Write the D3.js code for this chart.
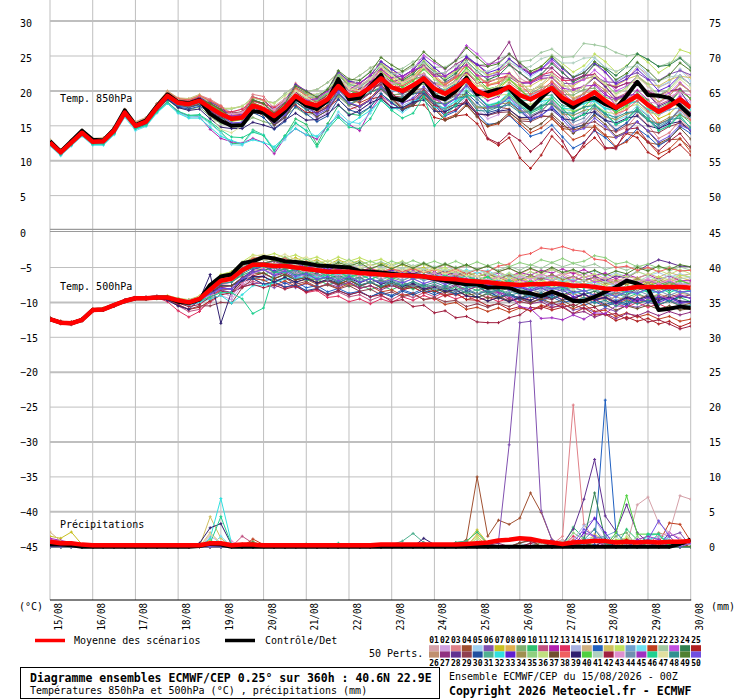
<!DOCTYPE html>
<html>
<head>
<meta charset="UTF-8" />
<title>Diagramme ensembles ECMWF/CEP</title>
<script src="https://cdn.jsdelivr.net/npm/d3@7"></script>
<style>
  body { margin: 0; background: #fff; }
  svg { display: block; }
  svg text { font-family: "DejaVu Sans Mono", "Liberation Mono", monospace; }
</style>
</head>
<body>
<div id="chart"></div>
<script>
// ---- data (6-hourly steps, 15/08 00Z -> 30/08 00Z, 61 steps) ----
const dayLabels = ["15/08","16/08","17/08","18/08","19/08","20/08","21/08","22/08","23/08","24/08","25/08","26/08","27/08","28/08","29/08","30/08"];
const memberColors = ["#d4a0a8","#d0a0e0","#e08088","#a05030","#a0d0f0","#8050b0","#c8c020","#e0b050","#80b070","#30c070",
  "#c05080","#b020b0","#e03060","#a8b0e0","#d0b080","#2060c0","#d0c060","#c0e060","#70a0d0","#70e0f0",
  "#c04020","#a0c8a0","#c050e0","#308050","#b02020","#c09070","#903080","#603090","#904050","#2050a0",
  "#50b090","#30e0e0","#6020d0","#a09050","#90d080","#c0e080","#705030","#f06060","#302070","#50d040",
  "#b0d0c0","#a02040","#e090d0","#7090b0","#a030c0","#20d090","#e0e0a0","#309090","#508030","#7050e0"];

const t850Mean = [12.6,11.2,12.6,14.0,12.7,12.8,14.3,16.9,15.0,15.6,17.6,19.3,18.3,18.1,18.6,17.6,16.7,16.0,16.2,17.9,17.4,16.4,17.6,19.3,18.3,17.9,18.8,20.7,19.3,19.5,20.5,21.8,20.5,20.0,20.8,21.8,20.3,19.6,20.5,21.6,20.0,19.3,19.8,20.6,19.4,18.8,19.6,20.4,19.0,18.2,18.9,19.8,18.6,17.6,18.4,19.3,18.0,17.0,17.8,18.8,17.6];
const t850Ctrl = [12.8,11.3,12.8,14.3,13.0,12.9,14.5,17.2,15.1,15.8,17.8,19.5,18.4,18.2,18.7,16.7,15.7,15.0,15.1,17.1,16.9,15.7,17.1,19.0,17.9,17.4,18.6,21.7,18.8,19.0,20.7,22.3,19.0,18.6,20.0,21.7,19.3,18.8,20.0,21.9,19.5,19.8,20.2,20.4,18.6,17.4,19.0,20.4,18.6,17.6,18.7,19.0,18.1,17.5,19.3,21.3,19.4,19.3,19.0,17.9,16.4];
const t850Members = [
[12.8,11.4,12.8,14.3,12.9,13.0,14.6,17.2,15.3,15.9,17.9,19.7,18.7,18.6,19.2,18.0,17.0,16.9,17.4,18.6,18.0,17.8,18.9,20.1,19.6,19.5,19.8,21.6,20.9,20.6,21.5,23.1,22.5,21.3,22.0,23.9,22.9,21.2,22.3,24.3,22.0,21.2,22.8,23.9,21.8,21.0,22.2,24.1,22.8,21.0,21.9,23.8,22.6,20.8,21.6,23.5,22.3,20.5,21.2,23.1,21.9],
[12.4,11.0,12.4,13.8,12.5,12.5,14.0,16.6,14.7,15.3,17.3,18.9,17.9,17.7,18.1,17.4,16.4,15.1,15.0,17.3,16.8,15.0,16.1,18.4,17.3,16.0,16.9,19.4,17.9,17.2,18.2,20.1,18.8,17.3,18.0,19.8,18.1,16.5,17.3,19.2,17.4,16.0,16.6,18.4,17.2,16.0,16.9,18.7,17.3,16.0,17.0,18.9,17.9,16.3,17.4,19.3,18.1,16.5,17.5,19.5,18.4],
[12.7,11.3,12.8,14.2,12.9,13.1,14.6,17.3,15.4,16.0,18.1,19.9,18.9,18.8,19.4,18.8,17.9,16.8,17.0,19.5,19.2,17.5,18.6,21.1,19.9,18.8,19.6,22.2,20.7,20.1,21.1,23.1,21.5,20.1,20.7,22.4,20.5,18.9,19.6,21.4,19.3,17.7,18.1,19.5,17.9,16.4,17.0,18.6,16.8,15.0,15.5,17.3,15.9,14.1,14.8,16.6,15.1,13.2,14.0,15.8,14.5],
[12.6,11.1,12.7,14.1,12.8,12.9,14.4,17.0,15.2,15.8,17.8,19.5,18.5,18.4,18.9,17.6,16.8,16.7,16.9,18.0,17.5,17.2,18.3,19.1,18.0,18.3,19.1,20.1,18.6,19.5,20.4,20.8,19.4,19.6,20.2,20.3,18.7,18.7,19.4,19.5,17.6,17.5,17.7,17.4,16.0,15.9,16.5,16.2,14.6,14.4,14.8,14.8,13.5,13.3,14.0,14.0,12.6,12.3,13.0,13.1,11.8],
[12.3,10.9,12.3,13.7,12.4,12.6,14.1,16.7,14.8,15.4,17.4,19.2,18.2,18.1,18.7,18.1,17.3,16.1,16.4,18.8,18.2,16.7,18.0,20.5,19.5,18.6,19.6,22.3,20.9,20.5,21.6,23.9,22.6,21.5,22.5,24.5,23.0,21.7,22.7,24.9,23.3,22.0,22.6,24.5,23.2,22.0,23.0,24.8,23.3,22.0,23.0,24.7,23.3,21.5,22.2,24.0,22.4,20.6,21.3,23.1,21.4],
[12.9,11.5,12.9,14.2,12.9,13.0,14.4,17.0,15.1,15.6,17.6,19.3,18.2,18.0,18.4,17.1,16.1,16.0,16.1,17.1,16.6,16.3,17.5,18.8,17.9,18.2,19.3,20.6,19.4,20.3,21.3,22.0,20.9,21.1,22.0,22.4,21.1,21.2,22.1,22.6,21.2,21.3,21.8,22.0,21.0,21.2,22.1,22.3,21.1,21.0,21.7,22.1,21.3,21.2,22.1,22.6,21.6,21.5,22.4,22.9,22.3],
[12.5,11.1,12.6,14.0,12.8,12.9,14.5,17.2,15.3,15.9,18.0,19.7,18.8,18.6,19.2,18.5,17.7,16.5,16.8,19.1,18.7,17.2,18.5,20.9,20.0,19.1,20.1,22.7,21.4,21.1,22.2,24.0,22.6,21.4,22.1,23.6,22.0,20.6,21.4,23.0,21.3,19.9,20.3,21.6,20.3,19.0,19.7,21.0,19.5,18.0,18.6,20.0,18.7,17.0,17.7,19.1,17.7,16.0,16.7,18.2,16.9],
[12.8,11.4,12.7,14.1,12.7,12.7,14.2,16.7,14.8,15.4,17.4,19.1,18.1,17.9,18.4,17.8,16.9,15.6,15.9,18.2,17.7,16.2,17.5,19.9,19.0,18.1,19.1,21.7,20.4,20.1,21.2,23.2,22.0,21.0,21.9,23.6,22.2,21.0,22.0,23.8,22.3,20.9,21.3,22.6,21.3,20.0,20.7,22.0,20.5,19.0,19.6,21.2,20.1,18.6,19.5,21.1,19.9,18.4,19.3,21.0,19.9],
[12.2,10.8,12.2,13.6,12.3,12.4,13.8,16.4,14.5,15.1,17.1,18.7,17.6,17.3,17.7,16.3,15.3,15.1,15.2,16.2,15.6,15.2,16.4,17.6,16.6,16.9,17.8,19.2,17.9,18.8,19.8,20.6,19.4,19.6,20.5,21.0,19.6,19.6,20.6,21.2,19.7,19.7,20.3,20.6,19.5,19.6,20.5,20.8,19.5,19.4,20.2,20.4,19.1,18.6,19.3,19.5,18.1,17.6,18.3,18.6,16.8],
[12.6,11.2,12.5,13.9,12.6,12.6,14.1,16.6,14.7,15.2,17.0,18.4,17.0,16.4,16.5,15.4,14.1,12.5,12.4,14.4,13.7,11.6,13.5,16.0,15.2,12.3,15.3,17.9,16.7,16.5,17.7,19.6,18.4,17.3,18.2,19.9,18.4,17.2,18.2,20.0,18.8,17.5,17.9,19.3,18.0,16.8,17.5,18.9,17.4,16.0,16.6,18.0,16.8,15.2,15.9,17.4,16.0,14.3,15.1,16.7,15.4],
[12.9,11.5,12.9,14.3,13.0,13.2,14.7,17.3,15.5,16.1,18.1,19.8,18.8,18.6,19.1,18.4,17.5,16.2,16.4,18.7,18.2,16.7,18.1,20.5,19.7,18.8,19.8,22.4,21.2,21.0,22.2,24.2,23.1,22.1,23.0,24.7,23.3,22.1,23.1,24.9,23.8,22.3,22.7,23.9,22.6,21.3,22.0,23.3,21.8,20.3,20.6,22.0,20.7,19.0,19.7,21.1,19.7,18.0,18.7,20.2,18.9],
[12.4,11.0,12.4,13.8,12.5,12.5,14.0,16.5,14.6,15.2,17.1,18.4,17.0,16.3,16.3,14.5,13.2,12.7,12.5,13.2,12.6,11.0,13.3,14.6,13.7,13.1,15.0,16.5,15.2,14.3,17.2,19.3,18.2,17.3,18.3,20.1,18.9,17.9,19.0,20.9,19.8,18.6,19.2,20.7,19.6,18.6,19.5,21.0,19.7,18.4,19.6,21.0,19.7,18.0,18.7,20.1,18.7,17.0,17.7,19.2,17.9],
[12.7,11.3,12.7,14.1,12.8,13.0,14.5,17.1,15.3,15.9,17.9,19.6,18.7,18.6,19.2,17.9,17.1,17.0,17.4,18.5,18.1,17.6,18.7,19.7,18.6,18.7,19.5,20.6,19.1,19.8,20.8,21.6,20.5,20.7,21.6,22.2,20.8,20.9,21.9,22.6,21.2,21.2,21.8,22.2,21.2,21.3,22.3,22.7,21.5,21.5,22.2,22.4,21.0,20.5,21.1,21.3,19.8,19.3,19.9,20.2,18.8],
[12.6,11.2,12.6,14.0,12.7,12.8,14.3,16.9,15.1,15.7,17.7,19.3,18.3,18.0,18.4,17.7,16.7,15.4,15.5,17.7,17.2,15.5,16.6,18.8,17.7,16.6,17.4,19.8,18.3,17.8,18.7,20.5,19.1,17.9,18.6,20.1,18.5,17.1,17.9,19.5,17.8,16.5,16.9,18.3,17.0,15.8,16.5,17.9,16.4,14.9,15.6,17.2,16.0,14.5,15.4,17.0,15.8,14.3,15.2,16.9,15.9],
[13.0,11.6,13.0,14.4,13.2,13.3,14.8,17.4,15.6,16.2,18.2,20.0,19.0,18.9,19.5,18.3,17.5,17.5,17.8,19.0,18.6,18.3,19.6,20.8,19.9,20.2,21.2,22.6,21.3,22.2,23.3,24.0,22.6,22.7,23.5,23.8,22.3,22.1,22.9,23.4,21.7,21.4,21.7,21.7,20.3,20.1,20.7,20.6,19.0,18.6,19.7,19.9,18.6,18.1,18.8,19.0,17.6,17.1,17.8,18.1,16.8],
[12.3,10.9,12.3,13.7,12.4,12.5,14.0,16.5,14.6,15.2,17.2,18.9,17.8,17.6,18.0,17.3,16.3,15.0,15.1,17.3,16.7,15.1,16.2,18.4,17.4,16.3,17.2,19.6,18.2,17.7,18.7,20.4,18.9,17.6,18.2,19.6,17.9,16.4,17.1,18.6,16.8,15.2,15.4,16.5,15.0,13.5,14.0,15.1,13.4,11.8,12.6,14.3,13.3,11.9,12.9,14.6,13.5,12.1,13.1,14.9,13.9],
[12.8,11.4,12.8,14.2,12.9,13.0,14.5,17.1,15.2,15.8,17.8,19.5,18.5,18.3,18.9,17.6,16.8,16.7,16.9,18.1,17.6,17.3,18.5,19.6,18.7,18.9,19.9,21.2,19.9,20.7,21.8,22.5,21.2,21.3,22.1,22.5,21.0,20.9,21.8,22.3,20.7,20.7,21.3,21.7,20.6,20.7,21.6,22.0,20.7,20.7,21.7,22.1,21.0,20.7,21.7,22.2,21.0,20.7,21.6,22.1,21.9],
[12.6,11.2,12.6,14.0,12.7,12.8,14.3,16.9,15.0,15.6,17.6,19.4,18.5,18.4,19.0,18.4,17.6,16.4,16.7,19.1,18.7,17.2,18.4,20.7,19.8,18.8,19.8,22.4,21.0,20.7,21.7,23.7,22.6,21.6,22.6,24.3,23.0,21.8,22.8,24.7,23.3,22.2,22.9,24.5,23.5,22.5,23.5,25.1,23.9,22.7,23.6,25.3,24.2,22.7,23.6,25.3,24.1,22.6,23.6,25.9,25.4],
[12.4,11.0,12.5,13.9,12.7,12.8,14.3,17.0,15.1,15.7,17.7,19.4,18.4,18.2,18.7,17.3,16.4,16.3,16.5,17.6,17.1,16.7,17.8,18.9,17.8,18.0,18.8,20.1,18.6,19.4,20.3,21.1,19.9,20.1,21.0,21.5,20.1,20.1,21.1,21.7,20.2,20.1,20.5,20.7,19.4,19.3,20.1,20.2,18.8,18.5,19.2,19.4,18.1,17.6,18.3,18.5,17.1,16.6,17.3,17.6,16.3],
[12.1,10.7,12.1,13.5,12.2,12.2,13.7,16.2,14.3,14.9,16.8,18.2,16.9,16.3,16.4,15.3,14.0,12.3,12.2,14.2,13.7,11.7,13.0,15.4,14.4,13.4,14.4,17.0,15.6,15.3,16.8,18.9,17.8,16.9,17.9,19.7,18.5,17.4,18.5,20.4,19.3,18.0,18.4,19.8,18.5,17.2,18.0,19.3,17.9,16.5,17.1,18.5,17.3,15.7,16.4,17.9,16.5,14.9,15.6,17.2,15.9],
[12.8,11.4,12.8,14.2,12.9,13.0,14.6,17.2,15.3,15.9,18.0,19.7,18.6,18.4,18.8,18.1,17.2,15.8,16.0,18.3,17.7,16.0,17.1,19.3,18.2,17.1,17.9,20.3,18.8,18.3,19.0,20.6,19.0,17.6,18.1,19.4,17.6,16.0,16.6,18.1,16.3,14.9,15.3,16.6,15.3,14.0,14.7,16.0,14.5,13.0,13.6,15.0,13.7,12.0,12.7,14.1,12.7,11.0,11.7,13.2,11.3],
[12.7,11.3,12.7,14.1,12.8,13.0,14.5,17.1,15.2,15.8,17.9,19.7,18.8,18.7,19.3,18.2,17.4,17.4,17.8,19.0,18.6,18.3,19.6,20.8,19.9,20.2,21.2,22.6,21.3,22.2,23.3,24.1,23.0,23.2,24.2,24.7,23.4,23.4,24.4,25.1,23.7,23.8,24.6,25.1,24.2,24.4,25.5,26.0,24.8,24.9,26.8,26.6,26.3,25.5,25.0,25.3,24.5,23.5,24.0,24.8,23.6],
[12.5,11.1,12.5,13.9,12.5,12.6,14.1,16.7,14.8,15.4,17.4,19.1,18.1,17.8,18.3,17.5,16.6,15.3,15.5,17.7,17.2,15.7,17.0,19.4,18.6,17.7,18.7,21.3,20.1,19.8,21.2,23.5,22.6,21.9,23.1,25.1,24.0,23.1,24.4,26.5,25.3,23.8,24.1,25.3,23.9,22.5,23.1,24.3,22.7,21.1,21.6,23.0,21.7,20.0,20.7,22.1,20.7,19.0,19.7,21.2,19.9],
[12.9,11.5,12.9,14.2,12.9,13.0,14.4,17.0,15.0,15.6,17.6,19.4,18.4,18.3,18.8,18.2,17.3,16.1,16.3,18.7,18.2,16.7,18.0,20.4,19.5,18.6,19.6,22.2,20.9,20.6,21.7,23.7,22.5,21.5,22.4,24.1,22.7,21.5,22.5,24.3,22.8,21.6,22.2,23.7,22.6,21.5,22.4,23.9,22.6,21.3,22.1,23.8,23.3,22.2,23.5,25.3,24.5,23.5,23.7,24.7,23.3],
[12.6,11.2,12.6,14.0,12.7,12.8,14.4,17.0,15.2,15.8,17.8,19.4,18.4,18.1,18.5,17.1,16.1,16.0,16.1,17.1,16.5,16.0,17.1,18.0,16.9,16.9,17.6,18.8,17.3,17.9,18.8,19.2,17.6,17.4,17.9,18.0,16.2,15.8,16.4,16.6,15.3,13.1,12.2,13.3,10.4,8.9,10.8,13.5,12.0,10.4,12.0,13.3,11.7,12.0,13.9,13.3,11.2,10.3,11.3,12.3,10.8],
[12.8,11.4,12.9,14.3,13.0,13.1,14.7,17.3,15.4,16.0,18.1,19.9,18.9,18.7,19.3,18.6,17.8,16.5,16.8,19.1,18.7,17.0,18.2,20.4,19.3,18.3,19.1,21.6,20.2,19.7,20.7,22.5,21.2,20.0,20.8,22.3,20.8,19.4,20.3,21.9,20.3,19.1,19.7,21.2,20.1,19.0,19.9,21.4,20.1,18.8,19.6,21.2,20.1,18.6,19.5,21.1,19.9,18.4,19.3,21.0,19.9],
[12.3,10.9,12.3,13.7,12.4,12.5,14.0,16.7,14.8,15.4,17.4,19.1,18.1,17.9,18.5,17.2,16.3,16.2,16.5,17.6,17.1,16.7,18.0,19.1,18.2,18.4,19.4,20.7,19.4,20.2,21.3,22.3,21.3,21.7,22.8,23.6,22.4,22.6,23.8,24.7,23.7,23.5,24.7,27.0,23.5,22.5,23.2,23.3,21.9,21.6,22.2,22.3,21.0,20.5,21.1,21.3,19.9,19.4,20.0,20.3,18.9],
[12.7,11.3,12.7,14.1,12.7,12.8,14.2,16.8,14.9,15.5,17.5,19.1,18.0,17.7,18.1,17.4,16.4,15.0,15.1,17.3,16.7,15.2,16.4,18.7,17.8,16.8,17.7,20.2,18.9,18.5,19.7,21.7,20.6,19.6,20.6,22.3,21.0,19.9,20.9,22.8,21.3,20.1,20.7,22.2,21.1,20.0,20.9,22.4,21.1,19.8,20.6,21.9,20.6,18.9,19.5,20.9,19.5,17.8,18.5,20.0,17.8],
[12.6,11.2,12.6,14.1,12.8,12.9,14.5,17.2,15.3,16.0,18.0,19.7,18.7,18.5,19.0,17.8,16.9,16.8,17.0,18.1,17.6,17.2,18.3,19.4,18.3,18.5,19.3,20.5,19.1,19.8,20.5,20.9,19.3,19.1,19.6,19.7,17.9,17.5,18.1,18.3,16.7,16.5,16.9,17.0,15.7,15.6,16.3,16.4,14.9,14.6,15.2,15.6,14.5,14.2,15.1,15.5,14.3,14.0,14.9,15.4,14.3],
[12.4,11.0,12.4,13.8,12.5,12.5,14.0,16.6,14.7,15.2,17.2,18.8,17.7,17.4,17.8,17.0,16.0,14.6,14.7,16.9,16.2,14.5,15.6,17.8,16.7,15.6,16.4,18.8,17.3,16.8,17.7,19.6,18.3,17.2,18.0,19.7,18.2,17.0,17.9,19.7,18.3,16.9,17.3,18.5,17.2,15.8,16.5,17.7,16.2,14.7,15.1,16.8,15.8,14.4,15.4,17.1,16.0,14.6,15.6,17.4,16.4],
[12.8,11.4,12.8,14.2,12.9,13.0,14.5,17.1,15.2,15.8,17.8,19.5,18.5,18.2,18.7,17.4,16.5,16.3,16.5,17.6,17.1,16.8,18.1,19.3,18.4,18.7,19.7,21.1,19.8,20.7,21.8,22.4,21.0,21.0,21.7,22.0,20.4,20.2,21.0,21.4,19.7,19.5,19.9,20.0,18.7,18.6,19.3,19.4,17.9,17.6,18.2,18.6,17.5,17.2,18.1,18.5,17.3,17.0,17.9,18.4,17.8],
[12.2,10.8,12.2,13.6,12.3,12.3,13.8,16.4,14.5,15.0,16.9,18.2,16.8,16.1,16.1,14.8,13.5,12.9,12.4,13.0,12.6,12.0,13.4,14.6,13.7,13.5,15.0,16.4,15.2,16.2,17.2,18.6,17.4,17.6,18.5,19.0,17.6,17.6,18.6,19.2,17.7,17.7,18.3,18.6,17.5,17.6,18.5,18.8,17.5,17.4,18.2,18.6,17.5,17.2,18.1,18.5,17.3,17.0,17.9,18.4,17.3],
[12.7,11.3,12.7,14.1,12.8,12.9,14.3,16.9,15.0,15.6,17.6,19.4,18.5,18.4,19.0,18.4,17.6,16.4,16.7,19.1,18.7,17.2,18.5,20.9,20.0,19.1,20.1,22.7,21.4,21.1,22.2,24.2,23.1,22.1,23.0,24.7,23.3,22.1,23.1,24.9,23.8,22.6,23.1,24.6,23.4,22.3,23.1,24.6,23.2,21.9,22.6,24.0,22.7,21.0,21.7,23.1,21.7,20.0,20.7,22.2,20.9],
[12.6,11.2,12.7,14.1,12.8,12.9,14.5,17.1,15.2,15.9,17.9,19.6,18.6,18.4,18.9,17.6,16.8,16.7,16.9,18.1,17.6,17.1,18.1,19.0,17.8,17.8,18.5,19.6,18.0,18.7,19.8,20.4,19.0,19.0,19.7,20.0,18.4,18.2,19.0,19.4,17.7,17.6,18.1,18.3,17.1,17.1,17.9,18.1,16.7,16.5,17.2,17.5,16.3,15.9,16.7,17.1,15.8,15.4,16.2,16.6,15.8],
[12.5,11.1,12.5,13.9,12.6,12.7,14.3,16.9,15.1,15.7,17.7,19.4,18.5,18.3,18.8,18.2,17.3,16.0,16.3,18.6,18.2,16.7,18.0,20.4,19.5,18.6,19.6,22.2,20.9,20.6,21.7,23.6,22.2,21.1,21.9,23.4,21.9,20.5,21.3,23.0,21.3,20.1,20.7,22.2,21.1,20.0,20.9,22.4,21.1,19.8,20.6,22.2,21.1,19.6,20.5,22.1,20.9,19.4,20.3,22.0,20.9],
[12.9,11.5,12.9,14.3,13.0,13.1,14.7,17.3,15.4,16.0,18.0,19.8,18.9,18.8,19.4,18.2,17.5,17.5,17.8,19.0,18.6,18.2,19.3,20.4,19.3,19.5,20.3,21.5,20.1,20.8,21.8,22.4,21.0,20.9,21.6,21.8,20.2,19.9,20.6,20.9,19.2,19.0,19.4,19.5,18.2,18.1,18.8,18.9,17.4,17.1,17.7,18.1,17.0,16.7,17.6,18.1,16.9,16.6,17.7,18.3,17.9],
[12.6,11.2,12.6,14.0,12.7,12.8,14.3,16.8,14.9,15.5,17.5,19.1,18.0,17.7,18.1,17.4,16.4,15.0,15.1,17.3,16.7,15.1,16.2,18.4,17.4,16.3,17.2,19.6,18.2,17.7,18.7,20.3,18.8,17.4,17.9,19.2,17.4,15.8,16.4,17.9,16.3,15.0,15.5,16.9,15.7,14.5,15.3,16.7,15.3,13.9,15.1,16.5,15.2,13.5,14.2,15.6,14.2,12.5,13.2,14.7,13.1],
[12.8,11.4,12.9,14.3,13.0,13.1,14.7,17.3,15.4,16.0,18.1,19.8,18.9,18.7,19.3,18.6,17.8,16.5,16.8,19.1,18.7,17.0,18.2,20.4,19.3,18.3,19.1,21.6,20.2,19.7,20.7,22.8,21.7,20.7,21.6,23.3,22.0,20.8,21.9,23.7,22.3,20.8,21.1,22.3,20.9,19.5,20.1,21.3,19.7,18.1,18.6,19.9,18.5,16.7,17.3,18.6,17.1,15.3,15.9,17.3,15.9],
[12.4,11.0,12.4,13.8,12.5,12.6,14.1,16.6,14.7,15.3,17.3,18.8,17.6,17.2,17.4,16.0,14.8,14.6,14.6,15.5,15.1,14.6,15.8,16.8,15.8,15.9,16.7,18.0,16.5,17.2,18.3,18.9,17.6,17.6,18.4,18.7,17.1,17.0,17.8,18.2,16.7,16.6,17.1,17.3,16.2,16.2,17.1,17.3,16.0,15.8,16.7,17.0,15.8,15.4,16.1,16.4,15.0,14.6,15.3,15.6,14.3],
[12.7,11.3,12.7,14.1,12.8,12.9,14.5,17.1,15.2,15.8,17.8,19.5,18.5,18.2,18.7,18.0,17.1,15.7,15.9,18.2,17.7,16.1,17.4,19.7,18.8,17.8,18.8,21.3,20.0,19.6,20.7,22.7,21.5,20.5,21.4,23.1,21.7,20.5,21.5,23.3,21.8,20.3,20.6,21.7,20.3,18.7,19.3,20.4,18.7,17.0,17.6,19.3,18.3,16.9,17.9,19.7,18.6,17.2,18.2,20.0,18.9],
[12.6,11.2,12.6,14.0,12.7,12.8,14.3,16.9,15.0,15.6,17.6,19.3,18.4,18.2,18.8,17.6,16.7,16.6,16.9,18.0,17.6,17.3,18.7,19.9,19.1,19.4,20.4,21.8,20.6,21.6,22.8,23.6,22.4,22.6,23.5,24.0,22.6,22.6,23.6,24.2,22.7,22.8,23.6,24.1,23.2,23.5,24.6,25.1,24.0,24.0,24.7,24.8,23.4,22.8,23.4,23.5,22.0,21.4,22.0,22.2,20.8],
[12.5,11.1,12.5,14.0,12.7,12.8,14.4,17.0,15.2,15.8,17.8,19.5,18.5,18.4,18.9,18.2,17.4,16.1,16.3,18.6,18.2,16.5,17.6,19.8,18.7,17.6,18.4,20.8,19.3,18.8,19.7,21.3,19.7,18.3,18.8,20.1,18.3,16.7,17.3,18.7,16.8,13.2,12.5,13.9,12.9,11.3,12.5,14.5,12.8,10.0,12.5,14.5,11.9,11.7,14.5,14.7,12.7,11.4,12.8,13.9,12.0],
[12.8,11.4,12.8,14.2,12.8,12.9,14.4,17.0,15.1,15.7,17.7,19.5,18.5,18.3,18.8,17.6,16.7,16.7,16.9,18.0,17.6,17.3,18.5,19.6,18.7,18.9,19.9,21.2,19.9,20.7,21.8,22.5,21.1,21.2,22.0,22.4,20.8,20.6,21.4,21.9,20.2,20.0,20.4,20.5,19.2,19.1,19.8,19.9,18.4,18.1,18.7,19.2,18.2,18.0,19.0,19.5,18.4,18.2,19.2,19.8,19.4],
[12.4,11.0,12.4,13.8,12.5,12.6,14.2,16.8,14.9,15.5,17.5,19.1,18.1,17.8,18.3,17.6,16.6,15.3,15.5,17.7,17.2,15.6,16.8,19.2,18.2,17.3,18.2,20.8,19.4,19.1,20.2,22.0,20.6,19.3,20.0,21.5,19.9,18.5,19.3,20.9,18.8,17.4,17.8,19.1,17.8,16.5,17.2,18.5,17.0,15.5,16.1,17.7,16.6,15.1,16.0,17.6,16.4,14.9,15.8,17.5,16.3],
[12.6,11.2,12.7,14.1,12.8,12.9,14.5,17.1,15.3,15.9,17.9,19.6,18.5,18.3,18.8,17.4,16.5,16.4,16.5,17.6,17.1,16.8,18.2,19.4,18.6,18.9,20.0,21.4,20.2,21.1,22.3,23.1,21.9,22.1,23.0,23.5,22.1,22.1,23.1,23.7,22.2,22.0,22.4,22.5,21.2,21.1,21.8,21.9,20.4,20.1,20.7,20.8,19.4,18.8,19.4,19.5,18.0,17.4,18.0,18.2,16.8],
[12.3,10.9,12.3,13.7,12.4,12.4,13.9,16.5,14.6,15.1,17.0,18.4,17.1,16.5,16.6,15.6,14.4,13.4,13.3,14.1,13.6,11.4,13.6,15.4,14.3,12.0,14.5,16.2,14.8,14.6,16.0,18.7,17.2,16.1,16.8,19.2,15.0,16.6,17.9,19.3,19.3,17.9,18.3,19.6,18.3,17.0,17.7,19.0,17.5,16.0,16.6,18.0,16.8,15.2,15.9,17.4,16.0,14.3,15.0,16.5,14.6],
[12.8,11.4,12.8,14.2,12.9,13.1,14.6,17.2,15.4,16.0,18.0,19.7,18.6,18.2,18.3,16.5,14.5,14.0,15.0,17.5,17.7,16.3,17.6,20.0,19.1,18.1,19.2,21.6,20.3,20.0,21.7,23.5,22.2,21.1,21.9,23.4,21.8,20.4,21.2,22.9,21.3,20.1,20.7,22.2,21.1,20.0,20.9,22.4,21.1,19.8,20.6,22.2,21.0,19.4,20.3,21.9,20.7,19.1,20.0,21.7,20.4],
[12.6,11.2,12.5,13.9,12.6,12.6,14.1,16.7,14.8,15.4,17.4,19.1,18.0,17.8,18.3,16.9,16.0,15.9,16.1,17.1,16.6,16.1,17.3,18.4,17.3,17.5,18.3,19.6,18.1,18.9,19.8,20.4,19.0,19.0,19.6,19.9,18.3,18.1,18.9,19.2,17.2,17.1,17.7,18.0,16.9,17.0,17.9,18.2,16.9,16.8,17.7,17.9,16.7,16.2,16.9,17.1,15.7,15.2,15.9,16.1,14.8],
[12.7,11.3,12.7,14.1,12.8,12.8,14.3,16.9,15.0,15.6,17.6,19.4,18.4,18.3,18.8,18.2,17.3,16.1,16.3,18.7,18.2,16.8,18.2,20.7,19.9,19.1,20.2,22.9,21.7,21.5,22.7,24.8,23.7,22.8,23.8,25.6,24.3,23.2,24.3,26.2,24.8,23.5,23.9,25.3,24.0,22.8,23.5,24.9,23.4,22.0,22.6,24.2,23.1,21.6,22.5,24.1,22.9,21.4,22.3,24.0,22.9],
[12.5,11.1,12.5,13.9,12.6,12.7,14.3,16.9,15.1,15.7,17.7,19.3,18.3,18.0,18.4,17.7,16.7,15.4,15.5,17.7,17.2,15.5,16.6,18.8,17.7,16.6,17.4,19.8,18.3,17.8,18.7,20.6,19.3,18.2,19.0,20.6,19.2,17.9,18.9,20.7,19.3,17.7,17.9,19.0,17.5,16.0,16.5,17.6,15.9,14.2,14.6,16.1,14.9,13.3,14.1,15.6,14.3,12.7,13.5,15.1,14.4]
];

const t500Mean = [-12.4,-12.9,-13.0,-12.5,-11.1,-11.0,-10.4,-9.8,-9.4,-9.4,-9.3,-9.3,-9.7,-10.0,-9.5,-8.2,-6.9,-6.6,-5.4,-4.6,-4.6,-4.8,-4.8,-5.0,-5.2,-5.4,-5.6,-5.6,-5.6,-5.8,-5.9,-6.0,-6.1,-6.1,-6.2,-6.3,-6.5,-6.6,-6.7,-6.9,-7.0,-7.1,-7.3,-7.4,-7.5,-7.4,-7.4,-7.3,-7.4,-7.6,-7.6,-7.8,-8.0,-8.1,-8.0,-7.8,-7.8,-7.8,-7.8,-7.8,-7.9];
const t500Ctrl = [-12.4,-12.9,-13.0,-12.5,-11.1,-11.0,-10.4,-9.8,-9.4,-9.4,-9.3,-9.3,-9.9,-10.1,-9.6,-7.5,-6.3,-6.0,-4.4,-4.1,-3.5,-3.7,-4.1,-4.2,-4.4,-4.7,-4.8,-4.9,-5.0,-5.5,-5.6,-5.7,-5.9,-6.1,-6.1,-6.3,-6.6,-6.9,-7.2,-7.4,-7.4,-7.9,-7.8,-7.9,-8.5,-8.7,-9.1,-8.5,-9.0,-9.8,-9.8,-9.2,-8.5,-7.8,-6.9,-7.3,-8.0,-11.1,-10.9,-10.6,-10.8];
const t500Members = [
[-12.3,-12.8,-12.9,-12.4,-11.0,-10.9,-10.3,-9.7,-9.3,-9.3,-9.2,-9.2,-9.7,-10.0,-9.5,-8.5,-7.3,-7.1,-6.1,-5.4,-5.1,-5.7,-5.2,-5.8,-5.5,-6.2,-5.8,-6.4,-5.8,-6.5,-6.1,-6.6,-6.1,-6.5,-6.0,-6.6,-6.1,-6.7,-6.0,-6.8,-6.2,-6.9,-6.4,-7.1,-6.6,-7.0,-6.3,-6.9,-6.3,-7.0,-6.3,-7.1,-6.7,-7.5,-6.9,-7.4,-6.8,-7.5,-7.0,-7.6,-7.1],
[-12.6,-13.1,-13.2,-12.7,-11.3,-11.1,-10.5,-9.9,-9.4,-9.4,-9.3,-9.3,-9.8,-10.2,-9.8,-9.5,-9.0,-9.6,-7.5,-6.5,-6.1,-6.4,-5.7,-6.5,-6.0,-6.8,-6.3,-6.9,-6.3,-7.1,-6.6,-7.2,-6.7,-7.2,-6.6,-7.3,-6.8,-7.4,-6.9,-7.6,-7.2,-7.8,-7.3,-7.9,-7.3,-7.7,-7.0,-7.4,-6.8,-7.5,-6.8,-7.5,-7.1,-7.7,-7.0,-7.3,-6.7,-7.2,-6.6,-7.1,-6.6],
[-12.4,-12.9,-12.9,-12.4,-11.0,-10.9,-10.3,-9.7,-9.3,-9.2,-9.1,-9.1,-9.5,-9.8,-9.3,-8.0,-6.6,-6.3,-5.3,-4.6,-4.9,-4.4,-4.9,-4.4,-5.1,-4.6,-5.3,-4.6,-5.1,-4.6,-5.2,-4.6,-5.2,-4.5,-5.1,-4.5,-5.2,-4.6,-5.2,-4.7,-5.3,-4.8,-5.6,-5.1,-5.9,-5.2,-5.8,-5.2,-6.0,-5.7,-6.4,-6.1,-7.0,-6.6,-7.2,-6.5,-7.2,-6.7,-7.5,-7.2,-7.9],
[-12.3,-12.8,-12.9,-12.4,-11.1,-11.0,-10.5,-9.9,-9.5,-9.5,-9.4,-9.5,-10.0,-10.4,-10.0,-9.1,-8.2,-8.1,-7.1,-6.4,-6.3,-7.0,-6.4,-7.1,-6.7,-7.4,-6.9,-7.5,-6.8,-7.6,-7.1,-7.9,-7.5,-8.2,-7.8,-8.6,-8.3,-8.9,-8.7,-9.6,-9.2,-9.8,-9.3,-9.9,-9.3,-9.7,-9.0,-9.4,-8.8,-9.5,-8.8,-9.7,-9.4,-10.2,-9.6,-10.1,-9.6,-10.3,-9.8,-10.5,-10.1],
[-12.5,-13.0,-13.1,-12.6,-11.2,-11.0,-10.4,-9.8,-9.4,-9.4,-9.3,-9.2,-9.5,-9.7,-9.2,-7.8,-6.5,-6.1,-5.2,-4.5,-4.9,-4.5,-5.0,-4.4,-5.3,-4.8,-5.6,-4.9,-5.5,-5.0,-5.7,-5.2,-5.8,-5.2,-5.9,-5.3,-6.0,-5.4,-6.1,-5.6,-6.3,-5.7,-6.4,-5.8,-6.4,-5.6,-6.2,-5.3,-5.9,-5.4,-5.9,-5.5,-6.3,-5.8,-6.3,-5.5,-6.2,-5.7,-6.4,-5.9,-6.4],
[-12.4,-12.9,-13.0,-12.5,-11.1,-10.9,-10.3,-9.7,-9.3,-9.3,-9.2,-9.2,-9.6,-10.0,-9.5,-8.9,-8.2,-8.6,-7.8,-7.3,-7.3,-7.9,-7.2,-7.9,-7.3,-7.9,-7.3,-7.8,-7.1,-7.8,-7.1,-7.8,-7.3,-7.8,-7.3,-7.9,-7.4,-8.0,-7.4,-8.2,-7.7,-8.6,-8.4,-9.3,-9.1,-9.9,-9.6,-10.4,-10.1,-11.1,-10.8,-11.4,-10.8,-11.3,-10.4,-10.7,-10.0,-10.4,-9.7,-10.2,-9.9],
[-12.2,-12.7,-12.8,-12.3,-10.9,-10.8,-10.3,-9.7,-9.3,-9.4,-9.3,-9.2,-9.5,-9.7,-9.1,-7.6,-6.1,-5.6,-4.4,-3.6,-3.9,-3.5,-4.1,-3.6,-4.3,-3.9,-4.6,-3.9,-4.5,-4.0,-4.7,-4.3,-5.1,-4.6,-5.4,-5.0,-5.9,-5.5,-6.3,-6.0,-6.8,-6.3,-7.0,-6.4,-7.1,-6.4,-6.9,-6.2,-6.8,-6.4,-6.9,-6.5,-7.3,-6.9,-7.5,-6.8,-7.5,-7.0,-7.8,-7.3,-7.9],
[-12.5,-13.0,-13.1,-12.6,-11.2,-11.0,-10.4,-9.8,-9.3,-9.3,-9.2,-9.2,-9.7,-10.0,-9.5,-8.2,-6.9,-6.6,-5.2,-4.3,-4.4,-4.0,-4.7,-4.3,-5.2,-4.8,-5.7,-5.2,-5.8,-5.5,-6.2,-5.8,-6.5,-6.0,-6.7,-6.3,-7.1,-6.7,-7.4,-7.1,-7.8,-7.2,-7.9,-7.3,-7.9,-7.1,-7.6,-6.8,-7.4,-6.9,-7.4,-6.9,-7.6,-7.1,-7.5,-6.6,-7.2,-6.5,-7.1,-6.4,-6.9],
[-12.4,-12.9,-13.0,-12.6,-11.2,-11.1,-10.6,-10.0,-9.6,-9.6,-9.5,-9.6,-10.1,-10.4,-9.9,-8.8,-7.6,-7.6,-6.6,-5.9,-5.8,-6.6,-5.9,-6.7,-6.2,-6.9,-6.4,-7.0,-6.3,-7.1,-6.6,-7.1,-6.5,-6.9,-6.2,-6.8,-6.2,-6.8,-6.1,-6.8,-6.2,-7.0,-6.7,-7.5,-7.1,-7.8,-7.3,-8.0,-7.6,-8.5,-8.3,-9.0,-8.5,-9.1,-8.3,-8.7,-8.0,-8.6,-8.0,-8.5,-8.4],
[-12.3,-12.8,-12.9,-12.4,-11.0,-10.9,-10.3,-9.7,-9.3,-9.3,-9.2,-9.2,-9.5,-9.8,-9.3,-8.6,-7.3,-7.1,-6.1,-5.5,-5.9,-5.6,-6.3,-6.0,-6.9,-6.6,-7.5,-7.0,-7.7,-7.4,-8.2,-7.6,-8.2,-7.5,-8.1,-7.5,-8.2,-7.6,-8.2,-7.7,-8.3,-7.7,-8.5,-7.9,-8.6,-7.8,-8.3,-7.6,-8.2,-7.8,-8.4,-8.1,-9.1,-8.7,-9.3,-8.7,-9.4,-9.0,-9.8,-9.3,-9.9],
[-12.5,-13.0,-13.1,-12.6,-11.2,-11.1,-10.5,-9.9,-9.5,-9.4,-9.3,-9.6,-10.5,-11.3,-11.0,-10.0,-8.9,-8.6,-7.6,-7.0,-7.4,-7.1,-7.8,-7.5,-8.4,-8.1,-9.0,-8.5,-9.2,-8.9,-9.7,-9.1,-9.6,-8.8,-9.3,-8.6,-9.2,-8.5,-9.0,-8.5,-9.3,-8.8,-9.5,-8.9,-9.5,-8.7,-9.2,-8.4,-9.1,-8.7,-9.4,-8.8,-9.4,-8.7,-9.0,-8.0,-8.4,-7.7,-8.2,-7.4,-7.9],
[-12.4,-12.9,-13.0,-12.5,-11.1,-10.9,-10.3,-9.6,-9.2,-9.2,-9.1,-9.2,-9.6,-10.0,-9.5,-8.7,-7.9,-8.1,-6.8,-5.8,-5.3,-6.0,-5.3,-6.0,-5.5,-6.2,-5.7,-6.2,-5.5,-6.2,-5.6,-6.2,-5.6,-6.1,-5.5,-6.1,-5.6,-6.2,-5.6,-6.3,-5.7,-6.3,-5.8,-6.3,-5.7,-6.1,-5.4,-5.8,-5.2,-5.9,-5.3,-6.1,-5.8,-6.6,-6.0,-6.5,-6.0,-6.7,-6.2,-6.9,-6.9],
[-12.3,-12.8,-12.9,-12.4,-11.0,-10.9,-10.3,-9.7,-9.3,-9.3,-9.3,-9.9,-11.2,-12.1,-11.3,-9.6,-7.9,-7.6,-7.0,-6.6,-7.4,-7.1,-7.9,-7.6,-8.6,-8.3,-9.3,-9.1,-9.9,-9.5,-10.2,-9.5,-10.0,-9.2,-9.7,-9.0,-9.6,-8.9,-9.5,-9.0,-9.8,-9.2,-9.9,-9.4,-10.0,-9.2,-9.7,-8.9,-9.6,-9.2,-9.9,-9.6,-10.5,-10.1,-10.7,-10.0,-10.7,-10.2,-10.9,-10.4,-10.9],
[-12.4,-12.9,-13.0,-12.5,-11.1,-10.9,-10.4,-9.8,-9.3,-9.3,-9.2,-9.2,-9.5,-9.8,-9.3,-8.1,-6.9,-6.5,-5.1,-4.2,-4.4,-4.0,-4.6,-4.2,-5.0,-4.5,-5.3,-4.6,-5.2,-4.6,-5.2,-4.8,-5.6,-5.1,-5.9,-5.5,-6.4,-6.0,-6.8,-6.5,-7.3,-6.9,-7.8,-7.4,-8.2,-7.6,-8.3,-7.7,-8.5,-8.2,-8.9,-8.3,-8.9,-8.2,-8.6,-7.7,-8.1,-7.4,-7.9,-7.2,-7.4],
[-12.6,-13.1,-13.2,-12.7,-11.3,-11.1,-10.5,-9.9,-9.5,-9.5,-9.4,-9.3,-9.7,-9.9,-9.3,-7.9,-6.4,-6.1,-4.9,-4.1,-3.8,-4.6,-4.0,-4.8,-4.4,-5.2,-4.8,-5.4,-4.8,-5.6,-5.1,-5.7,-5.1,-5.6,-5.0,-5.6,-5.1,-5.7,-5.1,-5.8,-5.2,-6.0,-5.6,-6.3,-5.9,-6.5,-5.9,-6.5,-6.0,-6.9,-6.3,-7.0,-6.5,-7.1,-6.3,-6.6,-5.9,-6.4,-5.7,-6.2,-5.9],
[-12.4,-12.9,-13.0,-12.5,-11.1,-11.0,-10.4,-9.8,-9.4,-9.4,-9.3,-9.3,-9.8,-10.1,-9.7,-8.7,-7.6,-7.6,-6.7,-6.3,-6.9,-6.6,-7.3,-7.0,-7.9,-7.6,-8.5,-8.0,-8.7,-8.4,-9.2,-8.5,-9.0,-8.2,-8.7,-8.0,-8.6,-7.9,-8.5,-8.0,-8.8,-8.4,-9.3,-8.9,-9.7,-9.1,-9.8,-9.2,-10.0,-9.7,-10.4,-9.9,-10.6,-10.0,-10.4,-9.5,-10.0,-9.3,-9.8,-9.1,-9.4],
[-12.3,-12.8,-12.9,-12.4,-11.0,-10.9,-10.3,-9.7,-9.3,-9.3,-9.2,-9.2,-9.5,-9.7,-9.2,-7.8,-6.5,-6.1,-4.8,-3.9,-3.3,-4.1,-3.6,-4.4,-4.1,-4.9,-4.6,-5.2,-4.7,-5.6,-5.1,-5.8,-5.2,-5.8,-5.2,-5.8,-5.3,-5.9,-5.4,-6.2,-5.7,-6.5,-6.2,-7.0,-6.6,-7.3,-6.8,-7.4,-7.0,-7.9,-7.3,-8.1,-7.7,-8.4,-7.7,-8.1,-7.6,-8.3,-7.8,-8.5,-8.4],
[-12.4,-12.9,-13.0,-12.5,-11.1,-10.9,-10.3,-9.7,-9.3,-9.2,-9.1,-9.0,-9.4,-9.6,-9.1,-7.5,-6.0,-5.6,-4.2,-3.2,-3.4,-3.0,-3.6,-3.2,-3.9,-3.5,-4.2,-3.5,-4.1,-3.6,-4.2,-3.8,-4.6,-4.1,-4.9,-4.5,-5.4,-5.0,-5.8,-5.5,-6.3,-5.9,-6.7,-6.2,-7.0,-6.3,-7.0,-6.4,-7.1,-6.8,-7.4,-6.9,-7.6,-7.0,-7.4,-6.5,-7.0,-6.3,-6.8,-6.1,-6.4],
[-12.5,-13.0,-13.1,-12.6,-11.2,-11.1,-10.5,-9.9,-9.5,-9.4,-9.3,-9.4,-9.8,-10.2,-9.7,-8.8,-8.0,-8.1,-6.7,-5.7,-5.3,-6.1,-5.4,-6.2,-5.8,-6.5,-6.0,-6.6,-5.9,-6.7,-6.1,-6.8,-6.2,-6.8,-6.2,-6.9,-6.4,-7.0,-6.5,-7.2,-6.7,-7.5,-7.2,-8.0,-7.6,-8.2,-7.7,-8.3,-7.9,-8.8,-8.3,-9.2,-8.9,-9.7,-9.1,-9.6,-9.1,-9.8,-9.3,-10.0,-9.9],
[-12.4,-12.9,-13.0,-12.5,-11.1,-11.0,-10.4,-9.8,-9.4,-9.5,-9.4,-9.4,-9.9,-10.4,-10.0,-9.2,-8.6,-9.1,-7.0,-6.3,-6.9,-6.3,-6.7,-6.1,-6.7,-6.2,-6.8,-6.1,-6.5,-6.0,-6.7,-6.0,-6.5,-5.7,-6.2,-5.5,-6.1,-5.4,-5.9,-5.3,-5.8,-5.4,-6.3,-5.9,-6.7,-6.1,-6.8,-6.2,-7.0,-6.7,-7.4,-7.1,-7.9,-7.5,-8.0,-7.3,-7.9,-7.4,-8.0,-7.4,-7.9],
[-12.2,-12.7,-12.8,-12.3,-11.0,-10.9,-10.3,-9.7,-9.4,-9.4,-9.3,-9.3,-9.7,-10.0,-9.5,-8.5,-7.5,-7.6,-6.9,-6.6,-6.8,-7.6,-6.9,-7.7,-7.2,-7.9,-7.4,-8.0,-7.3,-8.0,-7.6,-8.5,-8.2,-9.0,-8.7,-9.6,-9.4,-10.3,-10.0,-11.0,-10.7,-11.3,-10.8,-11.4,-10.8,-11.2,-10.4,-10.8,-10.2,-10.9,-10.3,-11.3,-11.1,-12.0,-11.5,-12.1,-11.7,-12.4,-12.0,-12.7,-12.4],
[-12.4,-12.9,-13.0,-12.5,-11.1,-11.0,-10.4,-9.7,-9.3,-9.3,-9.2,-9.2,-9.6,-9.8,-9.3,-7.9,-6.5,-6.1,-4.9,-4.1,-4.4,-3.9,-4.4,-3.9,-4.6,-4.1,-4.8,-4.1,-4.6,-4.1,-4.7,-4.2,-4.8,-4.2,-4.8,-4.3,-5.0,-4.4,-5.1,-4.6,-5.3,-4.7,-5.4,-4.8,-5.4,-4.6,-5.1,-4.3,-4.9,-4.4,-4.9,-4.5,-5.3,-4.9,-5.4,-4.7,-5.3,-4.8,-5.5,-4.9,-5.4],
[-12.5,-13.0,-13.1,-12.6,-11.2,-11.1,-10.5,-9.9,-9.5,-9.4,-9.3,-9.4,-9.9,-10.3,-10.0,-8.7,-7.4,-7.1,-5.7,-4.7,-4.3,-5.1,-4.4,-5.2,-4.7,-5.4,-5.0,-5.5,-4.9,-5.6,-5.1,-5.8,-5.3,-6.0,-5.5,-6.3,-5.9,-6.7,-6.2,-7.1,-6.7,-7.3,-6.8,-7.4,-6.8,-7.2,-6.5,-6.9,-6.3,-7.0,-6.3,-7.1,-6.8,-7.6,-6.9,-7.4,-6.8,-7.5,-6.9,-7.6,-7.4],
[-12.3,-12.8,-12.9,-12.4,-11.0,-10.9,-10.3,-9.7,-9.3,-9.3,-9.2,-9.2,-9.7,-10.0,-9.5,-8.2,-6.9,-6.6,-5.6,-5.0,-5.4,-5.0,-5.7,-5.3,-6.2,-5.8,-6.6,-6.1,-6.8,-6.4,-7.2,-6.8,-7.6,-7.1,-7.9,-7.5,-8.4,-8.0,-8.8,-8.5,-9.3,-8.7,-9.4,-8.8,-9.4,-8.6,-9.1,-8.3,-8.9,-8.4,-8.9,-8.4,-9.1,-8.5,-8.9,-8.0,-8.5,-7.8,-8.3,-7.6,-7.9],
[-12.4,-12.9,-13.0,-12.5,-11.1,-11.0,-10.4,-9.8,-9.4,-9.5,-9.4,-9.6,-10.3,-11.0,-10.7,-9.8,-8.9,-8.6,-7.2,-6.2,-5.8,-6.6,-6.0,-6.8,-6.4,-7.2,-6.8,-7.4,-6.8,-7.6,-7.1,-7.9,-7.5,-8.2,-7.8,-8.6,-8.3,-9.1,-8.7,-9.6,-9.7,-10.5,-10.2,-11.0,-10.6,-11.2,-10.6,-11.1,-10.7,-11.6,-10.8,-11.8,-11.7,-12.6,-12.1,-12.7,-12.3,-13.1,-12.7,-13.5,-12.9],
[-12.3,-12.8,-12.9,-12.4,-11.0,-10.9,-10.3,-9.7,-9.4,-9.4,-9.3,-9.2,-9.6,-9.8,-9.3,-7.9,-6.5,-6.1,-5.1,-4.5,-4.9,-4.5,-5.1,-4.7,-5.5,-5.1,-5.9,-5.3,-5.9,-5.5,-6.2,-5.8,-6.5,-5.9,-6.7,-6.2,-7.1,-6.6,-7.4,-7.1,-7.8,-7.4,-8.3,-7.9,-8.7,-8.1,-8.8,-8.2,-9.0,-8.7,-9.4,-9.0,-9.7,-9.2,-9.7,-8.9,-9.4,-8.8,-9.3,-8.7,-8.9],
[-12.5,-13.0,-13.1,-12.6,-11.2,-11.0,-10.4,-9.8,-9.3,-9.3,-9.2,-9.3,-9.7,-10.0,-9.5,-8.5,-7.6,-7.6,-6.4,-5.6,-5.3,-6.2,-5.7,-6.6,-6.3,-7.2,-6.9,-7.6,-7.1,-8.0,-7.6,-8.2,-7.6,-8.1,-7.5,-8.1,-7.6,-8.2,-7.6,-8.3,-7.7,-8.7,-8.6,-9.6,-9.4,-10.2,-9.9,-10.7,-10.5,-11.6,-11.3,-12.1,-11.6,-12.3,-11.6,-11.9,-11.3,-11.9,-11.3,-11.8,-11.4],
[-12.4,-12.9,-13.0,-12.5,-11.1,-11.0,-10.4,-9.8,-9.4,-9.4,-9.3,-9.2,-9.5,-9.7,-9.2,-8.1,-6.9,-6.6,-5.2,-4.2,-4.4,-4.0,-4.6,-4.2,-5.0,-4.6,-5.4,-4.8,-5.4,-5.0,-5.7,-5.2,-5.8,-5.2,-5.9,-5.3,-6.0,-5.5,-6.1,-5.6,-6.3,-5.8,-6.6,-6.1,-6.8,-6.1,-6.7,-6.0,-6.7,-6.3,-6.9,-6.3,-6.9,-6.2,-6.5,-5.6,-4.6,-3.9,-4.3,-4.8,-4.9],
[-12.2,-12.7,-12.8,-12.3,-11.0,-10.9,-10.3,-9.7,-9.3,-9.3,-9.2,-9.6,-10.4,-11.0,-10.5,-10.5,-10.0,-10.1,-7.9,-6.6,-6.3,-7.1,-6.5,-7.4,-7.0,-7.8,-7.5,-8.1,-7.6,-8.4,-8.1,-8.9,-8.5,-9.2,-8.8,-9.6,-9.3,-9.9,-9.7,-10.6,-10.2,-10.7,-10.1,-10.6,-9.9,-10.2,-9.3,-9.6,-8.9,-9.5,-8.8,-9.6,-9.2,-9.9,-9.2,-9.6,-8.9,-9.5,-8.8,-9.3,-8.9],
[-12.5,-13.0,-13.1,-12.6,-11.2,-11.1,-10.5,-9.9,-9.5,-9.5,-9.4,-9.4,-9.9,-10.2,-9.8,-8.7,-7.6,-7.6,-6.9,-6.6,-7.4,-7.1,-7.8,-7.5,-8.3,-8.0,-8.8,-8.3,-8.9,-8.5,-9.2,-8.6,-9.2,-8.4,-8.9,-8.3,-8.9,-8.3,-8.8,-8.3,-8.8,-8.3,-9.2,-8.7,-9.5,-8.9,-9.5,-8.9,-9.7,-9.4,-9.9,-9.5,-10.3,-9.8,-10.2,-9.3,-9.9,-9.2,-9.8,-9.1,-9.4],
[-12.4,-12.9,-13.0,-12.5,-11.1,-11.0,-10.4,-9.8,-9.4,-9.3,-9.2,-9.2,-9.6,-9.8,-9.3,-8.1,-6.9,-6.6,-5.5,-4.8,-4.8,-5.6,-5.1,-5.9,-5.6,-6.4,-6.0,-6.7,-6.1,-7.0,-6.6,-7.3,-6.8,-7.5,-7.1,-7.8,-7.5,-8.2,-7.8,-8.7,-8.2,-8.8,-8.2,-8.7,-8.0,-8.3,-7.5,-7.8,-7.1,-7.7,-7.3,-8.1,-7.7,-8.4,-7.6,-8.0,-7.3,-7.8,-7.1,-7.7,-7.4],
[-12.3,-12.8,-12.9,-12.4,-11.0,-10.9,-10.4,-9.8,-9.4,-9.4,-9.3,-9.4,-9.9,-10.3,-10.0,-9.5,-9.0,-10.1,-8.9,-7.6,-7.6,-7.2,-6.6,-6.5,-6.4,-6.3,-6.2,-6.0,-5.8,-5.8,-5.6,-6.2,-5.7,-6.2,-5.7,-6.3,-5.9,-6.5,-6.0,-6.7,-6.2,-7.0,-6.7,-7.5,-7.2,-7.9,-7.4,-8.1,-7.7,-8.7,-8.3,-9.0,-8.6,-9.2,-8.5,-8.8,-8.2,-8.7,-8.1,-8.6,-8.4],
[-12.4,-12.9,-13.0,-12.5,-11.1,-10.9,-10.3,-9.6,-9.2,-9.2,-9.1,-9.2,-9.6,-10.0,-9.5,-8.7,-7.9,-8.1,-6.6,-5.3,-4.8,-5.5,-4.8,-5.5,-5.0,-5.7,-5.2,-5.7,-5.0,-5.7,-5.1,-5.8,-5.4,-6.0,-5.6,-6.4,-6.0,-6.8,-6.3,-7.2,-6.7,-7.6,-7.3,-8.1,-7.8,-8.4,-7.9,-8.6,-8.2,-9.2,-8.8,-9.6,-9.3,-10.1,-9.4,-9.9,-9.3,-10.0,-9.4,-10.0,-9.9],
[-12.5,-13.0,-13.1,-12.6,-11.2,-11.1,-10.5,-9.9,-9.5,-9.5,-9.4,-9.4,-9.7,-10.0,-9.5,-8.2,-6.9,-6.6,-5.2,-4.3,-4.4,-4.1,-4.7,-4.4,-5.2,-4.9,-5.7,-5.2,-5.8,-5.5,-6.2,-5.6,-6.2,-5.5,-6.1,-5.5,-6.2,-5.6,-6.2,-5.7,-6.3,-5.8,-6.6,-6.1,-6.8,-6.1,-6.7,-6.0,-6.7,-6.3,-6.9,-6.5,-7.3,-6.9,-7.4,-6.6,-7.3,-6.7,-7.4,-6.8,-7.4],
[-12.3,-12.8,-12.9,-12.4,-11.0,-10.9,-10.3,-9.7,-9.3,-9.3,-9.2,-9.2,-9.5,-9.8,-9.3,-7.8,-6.4,-6.1,-4.8,-3.8,-3.3,-4.1,-3.5,-4.2,-3.8,-4.5,-4.0,-4.6,-3.9,-4.6,-4.1,-4.7,-4.1,-4.6,-4.0,-4.6,-4.1,-4.7,-4.1,-4.8,-4.2,-4.8,-4.3,-4.9,-4.3,-4.7,-3.9,-4.3,-3.7,-4.4,-4.1,-3.3,-3.6,-4.5,-4.2,-4.9,-4.5,-5.1,-4.9,-5.5,-5.4],
[-12.4,-12.9,-13.0,-12.5,-11.1,-11.0,-10.4,-9.8,-9.4,-9.4,-9.3,-9.3,-9.7,-10.0,-9.5,-8.4,-7.2,-7.1,-5.7,-4.7,-4.9,-4.5,-5.0,-4.6,-5.3,-4.9,-5.6,-5.0,-5.5,-5.0,-5.7,-5.1,-5.8,-5.1,-5.7,-5.2,-5.9,-5.3,-5.9,-5.5,-6.3,-5.7,-6.4,-5.8,-6.4,-5.6,-6.1,-5.3,-5.9,-5.4,-6.4,-5.9,-6.6,-6.0,-6.4,-5.6,-6.1,-5.4,-6.0,-5.3,-5.9],
[-12.5,-13.0,-13.1,-12.6,-11.2,-11.1,-10.5,-9.9,-9.5,-9.4,-9.3,-9.4,-9.8,-10.2,-9.7,-8.7,-7.7,-7.6,-6.5,-5.8,-5.8,-6.6,-6.0,-6.8,-6.4,-7.2,-6.8,-7.4,-6.8,-7.6,-7.1,-7.8,-7.3,-8.0,-7.5,-8.3,-7.9,-8.6,-8.2,-9.0,-8.7,-9.4,-9.1,-9.8,-9.4,-10.0,-9.5,-10.1,-9.7,-10.6,-9.8,-10.6,-10.3,-11.1,-10.5,-10.9,-10.4,-11.0,-10.5,-11.1,-10.9],
[-12.4,-12.9,-13.0,-12.5,-11.1,-11.0,-10.4,-9.8,-9.3,-9.3,-9.2,-9.2,-9.5,-9.7,-9.2,-7.8,-6.4,-6.1,-4.7,-3.7,-3.4,-4.1,-3.7,-4.5,-4.2,-5.0,-4.7,-5.3,-4.8,-5.5,-5.1,-5.6,-5.2,-5.6,-5.2,-5.7,-5.3,-5.8,-5.3,-5.9,-5.3,-5.6,-4.8,-4.5,-3.3,-3.0,-2.2,-2.4,-2.0,-2.5,-2.7,-3.8,-4.0,-5.0,-4.8,-5.4,-5.0,-5.6,-5.1,-5.5,-5.4],
[-12.3,-12.8,-12.9,-12.4,-11.0,-10.9,-10.4,-9.8,-9.4,-9.4,-9.3,-9.7,-10.5,-11.0,-9.6,-6.0,-13.0,-8.5,-6.8,-6.3,-6.3,-7.1,-6.4,-7.1,-6.6,-7.2,-6.7,-7.2,-6.5,-7.2,-6.6,-7.4,-7.0,-7.7,-7.3,-8.1,-7.8,-8.4,-8.2,-9.1,-9.2,-9.8,-9.3,-9.9,-9.3,-9.7,-9.0,-9.4,-8.8,-9.5,-8.8,-9.6,-9.3,-10.0,-9.3,-9.7,-9.1,-9.7,-9.2,-9.8,-9.9],
[-12.5,-13.0,-13.1,-12.6,-11.1,-11.0,-10.3,-9.7,-9.3,-9.3,-9.2,-9.3,-9.7,-10.0,-9.5,-7.9,-6.5,-6.1,-5.1,-4.5,-4.9,-4.6,-5.2,-4.9,-5.7,-5.4,-6.3,-5.7,-6.4,-6.0,-6.7,-6.1,-6.7,-6.0,-6.6,-6.0,-6.7,-6.1,-6.7,-6.2,-6.8,-6.3,-7.2,-6.7,-7.5,-6.9,-7.6,-7.0,-7.8,-7.5,-7.9,-7.5,-8.3,-7.7,-8.1,-7.2,-7.7,-7.1,-7.6,-6.9,-7.4],
[-12.4,-12.9,-13.0,-12.5,-11.1,-11.0,-10.4,-9.8,-9.4,-9.4,-9.3,-9.2,-9.5,-9.7,-9.2,-8.1,-6.9,-6.6,-5.1,-4.2,-3.8,-4.6,-3.9,-4.7,-4.3,-5.0,-4.5,-5.1,-4.4,-5.1,-4.6,-5.2,-4.7,-5.2,-4.7,-5.3,-4.8,-5.5,-4.9,-5.7,-5.2,-6.0,-5.7,-6.5,-6.1,-6.7,-6.2,-6.8,-6.4,-7.3,-6.8,-7.5,-7.0,-7.6,-6.7,-7.0,-6.3,-6.8,-6.1,-6.6,-6.4],
[-12.3,-12.8,-12.9,-12.4,-11.0,-10.9,-10.4,-9.8,-9.4,-9.4,-9.3,-9.5,-10.1,-10.6,-10.3,-9.2,-8.4,-8.6,-7.8,-7.4,-7.9,-7.5,-8.1,-7.7,-8.5,-8.1,-8.9,-8.3,-8.9,-8.5,-9.2,-8.9,-9.9,-9.6,-10.6,-10.4,-11.5,-11.2,-12.2,-12.0,-12.8,-12.9,-12.9,-12.2,-11.8,-10.7,-10.9,-10.0,-10.7,-10.3,-10.9,-10.7,-11.8,-11.6,-12.4,-11.9,-12.8,-12.5,-13.1,-13.8,-13.4],
[-12.4,-12.9,-13.0,-12.5,-11.1,-10.9,-10.3,-9.6,-9.2,-9.2,-9.1,-9.2,-9.6,-10.0,-9.5,-9.0,-8.6,-9.1,-7.3,-5.9,-5.3,-6.0,-5.3,-6.0,-5.5,-6.2,-5.7,-6.2,-5.5,-6.2,-5.6,-6.3,-5.7,-6.3,-5.7,-6.3,-5.8,-6.4,-5.9,-6.6,-6.2,-6.8,-6.3,-6.9,-6.3,-6.7,-6.0,-6.4,-5.8,-6.5,-5.8,-6.7,-6.4,-7.2,-6.6,-7.1,-6.6,-7.3,-6.8,-7.5,-7.4],
[-12.5,-13.0,-13.1,-12.6,-11.2,-11.1,-10.5,-9.9,-9.5,-9.5,-9.4,-9.4,-9.9,-10.3,-9.8,-8.4,-7.0,-6.6,-5.5,-4.8,-4.8,-5.1,-5.7,-5.5,-6.3,-6.0,-6.8,-6.3,-6.9,-6.5,-7.2,-6.7,-7.5,-7.0,-7.7,-7.3,-8.1,-7.7,-8.4,-8.1,-8.8,-8.2,-8.9,-8.3,-8.9,-8.1,-8.6,-7.8,-8.4,-7.9,-8.4,-8.0,-8.9,-8.5,-9.0,-8.3,-8.9,-8.3,-9.0,-8.4,-8.9],
[-12.3,-12.8,-12.9,-12.4,-11.0,-10.9,-10.3,-9.7,-9.3,-9.3,-9.2,-9.2,-9.5,-9.8,-9.3,-8.2,-6.9,-6.6,-5.1,-4.2,-4.4,-4.1,-4.7,-4.3,-5.2,-4.8,-5.7,-5.2,-5.8,-5.5,-6.2,-5.7,-6.4,-5.8,-6.5,-6.0,-6.8,-6.3,-7.0,-6.6,-7.3,-7.2,-8.6,-8.9,-10.6,-10.9,-12.3,-12.2,-12.5,-11.8,-12.4,-11.5,-11.6,-10.5,-10.6,-9.5,-9.8,-9.1,-9.5,-8.9,-9.4],
[-12.4,-12.9,-13.0,-12.5,-11.1,-11.0,-10.4,-9.8,-9.4,-9.4,-9.3,-9.3,-9.8,-10.2,-9.8,-9.2,-8.6,-8.6,-9.5,-11.6,-10.8,-5.7,-5.7,-5.2,-6.0,-5.5,-6.3,-5.7,-6.3,-5.9,-6.7,-6.1,-6.7,-6.0,-6.6,-6.0,-6.7,-6.1,-6.7,-6.2,-6.8,-6.4,-7.3,-6.9,-7.7,-7.1,-7.8,-7.2,-8.0,-7.7,-7.9,-7.6,-8.5,-8.1,-8.6,-7.9,-8.5,-7.9,-8.6,-8.0,-8.4],
[-12.5,-13.0,-13.1,-12.6,-11.2,-11.0,-10.3,-9.7,-9.2,-9.2,-9.1,-9.1,-9.4,-9.7,-9.2,-7.8,-6.4,-6.0,-4.5,-3.4,-3.1,-3.7,-3.1,-3.9,-3.5,-4.3,-4.0,-4.6,-4.1,-5.0,-4.6,-5.3,-4.8,-5.4,-4.9,-5.6,-5.2,-5.9,-5.4,-6.2,-6.2,-7.0,-6.6,-7.4,-7.0,-7.6,-7.1,-7.7,-7.3,-8.2,-7.3,-8.1,-7.7,-8.4,-7.7,-8.1,-7.5,-8.1,-7.5,-8.1,-7.9],
[-12.3,-12.8,-12.9,-12.4,-11.0,-10.9,-10.4,-9.8,-9.4,-9.4,-9.3,-9.3,-9.7,-10.0,-9.5,-8.5,-7.3,-7.1,-5.9,-5.1,-4.8,-5.7,-5.2,-6.1,-5.8,-6.7,-6.4,-7.1,-6.6,-7.5,-7.1,-7.7,-7.1,-7.6,-7.0,-7.6,-7.1,-7.7,-7.1,-7.8,-7.7,-8.5,-8.2,-9.0,-8.6,-9.2,-8.7,-9.3,-8.9,-9.8,-9.3,-10.1,-9.7,-10.5,-9.8,-10.2,-9.7,-10.3,-9.8,-10.4,-10.4],
[-12.4,-12.9,-13.0,-12.5,-11.1,-11.0,-10.4,-9.7,-9.3,-9.3,-9.2,-9.2,-9.5,-9.8,-9.3,-8.2,-6.9,-6.6,-5.2,-4.2,-4.4,-4.0,-4.5,-4.1,-4.8,-4.3,-5.0,-4.3,-4.8,-4.3,-5.2,-4.6,-5.2,-4.5,-5.1,-4.4,-5.1,-4.5,-5.1,-4.6,-5.3,-4.8,-5.6,-5.1,-5.8,-5.1,-5.7,-5.0,-5.7,-5.3,-5.9,-5.4,-6.1,-5.5,-5.9,-5.0,-5.5,-4.8,-5.3,-4.6,-4.9],
[-12.5,-13.0,-13.1,-12.6,-11.2,-11.1,-10.5,-9.9,-9.5,-9.4,-9.3,-9.4,-9.8,-10.2,-9.7,-8.8,-8.0,-8.1,-6.6,-5.7,-5.3,-6.1,-5.5,-6.3,-5.9,-6.7,-6.3,-6.9,-6.3,-7.1,-6.6,-7.2,-6.7,-7.2,-6.6,-7.3,-6.8,-7.4,-6.9,-7.6,-7.2,-7.9,-7.5,-8.2,-7.7,-8.2,-7.6,-8.1,-7.7,-8.6,-8.3,-9.0,-8.6,-9.2,-8.4,-8.7,-8.0,-8.6,-8.0,-8.5,-8.4]
];

const precipMean = [0.7,0.5,0.5,0.3,0.2,0.2,0.2,0.2,0.2,0.2,0.2,0.2,0.2,0.2,0.2,0.5,0.5,0.2,0.3,0.3,0.2,0.2,0.2,0.2,0.2,0.2,0.2,0.2,0.2,0.2,0.2,0.3,0.3,0.3,0.3,0.3,0.3,0.3,0.3,0.4,0.5,0.6,0.9,1.0,1.2,1.1,0.8,0.6,0.4,0.6,0.7,0.8,0.8,0.6,0.7,0.6,0.7,0.6,0.7,0.7,0.8];
const precipCtrl = [0.3,0.3,0.2,0,0,0,0,0,0,0,0,0,0,0,0.1,0.4,0.3,0,0,0,0,0,0,0,0,0,0,0,0,0,0,0,0,0,0,0,0,0,0,0,0,0,0,0,0,0,0,0,0,0,0,0,0,0,0,0,0,0,0,0.4,1.0];
// non-zero precipitation per member: [step, mm]; every other step is 0 mm
const precipMemberNonZero = [
  [[0,1.0],[1,0.6],[47,0.5],[48,1.0],[55,6.0],[56,7.1],[57,3.4],[58,2.0],[59,7.3],[60,6.8]],
  [[0,0.8],[1,0.5],[15,1.5],[16,0.6],[50,1.5],[51,2.5],[52,1.0]],
  [[47,0.3],[48,1.5],[49,20.3],[50,3.2],[51,1.0],[52,0.3]],
  [[38,0.2],[39,1.0],[40,10.0],[41,1.5],[42,3.8],[43,3.2],[44,4.1],[45,7.7],[46,4.9],[47,1.0],[48,0.2]],
  [[44,0.5],[50,1.0],[51,1.5],[52,1.2],[53,1.5],[56,1.2],[57,0.6]],
  [[41,0.3],[42,0.8],[43,14.6],[44,32.1],[45,32.3],[46,5.1],[47,1.0],[48,0.2],[55,0.8],[58,1.5],[59,2.0]],
  [[0,1.5],[1,1.2],[2,2.1],[3,0.3],[15,1.0],[39,0.6],[40,2.4],[41,0.5],[51,1.3]],
  [[40,1.8],[41,0.4],[50,0.8],[54,1.0]],
  [[19,0.8],[24,0.4],[36,0.3],[53,1.5],[54,2.0]],
  [[38,0.6],[39,0.8],[40,2.1],[41,0.4],[49,2.8],[50,1.2],[54,2.5],[55,1.0]],
  [[0,1.0],[1,0.8],[18,1.5],[19,0.5],[52,1.0]],
  [[0,1.2],[1,0.9],[2,0.6],[55,1.0],[56,0.5]],
  [[49,1.5],[50,0.5]],
  [[46,0.6],[49,1.0],[50,3.0],[51,4.0],[52,1.5],[58,1.0]],
  [[0,2.1],[1,0.8],[15,2.0],[16,0.5]],
  [[49,0.5],[50,0.2],[51,0.3],[52,21.0],[53,2.0],[54,0.5]],
  [[15,4.3],[16,1.2],[51,1.8],[52,0.8]],
  [[40,1.5],[53,1.0],[54,1.2]],
  [[45,0.5],[52,1.5],[53,2.2],[57,1.2]],
  [[16,1.5],[56,1.6],[57,1.8],[58,1.0]],
  [[19,1.1],[20,0.3],[57,0.5],[58,3.4],[59,3.2],[60,0.8]],
  [[40,0.8],[41,0.3],[49,0.6]],
  [[0,1.0],[1,0.4],[50,2.0],[51,1.5],[52,0.8]],
  [[50,1.0],[51,7.7],[52,1.0]],
  [[53,0.8],[54,1.0],[59,0.5]],
  [[0,0.6],[57,2.0],[58,1.5]],
  [[34,0.3],[35,0.6],[41,0.2],[42,0.5]],
  [[48,0.4],[49,2.5],[50,6.8],[51,12.5],[52,4.4],[53,2.2],[54,6.0],[55,2.0],[56,0.6]],
  [[44,0.6],[45,0.8]],
  [[51,1.0],[52,0.5],[56,0.8]],
  [[32,0.3],[33,0.8],[34,1.9],[35,0.6],[38,0.6],[39,0.8]],
  [[15,1.2],[16,6.9],[17,0.5],[56,1.0],[57,1.5],[58,0.8]],
  [[50,2.0],[51,4.1],[52,2.0],[58,2.0],[59,1.0]],
  [[46,0.6],[53,0.8]],
  [[49,2.0],[50,1.0],[55,1.5]],
  [[40,1.2],[54,1.5]],
  [[44,0.5],[45,1.0],[59,0.5]],
  [[49,1.0],[50,0.5]],
  [[14,0.5],[15,2.7],[16,3.3],[17,0.3],[35,1.2],[36,0.3],[52,1.0]],
  [[53,2.0],[54,7.3],[55,1.8],[56,1.8],[57,1.8],[58,0.2]],
  [[47,0.6],[48,0.8]],
  [[45,0.5],[46,0.8],[59,0.8]],
  [[17,0.8],[57,1.5],[58,2.0],[59,1.2]],
  [[50,0.8],[51,1.2],[52,1.5],[57,0.5]],
  [[51,1.0],[55,1.0],[56,1.5],[57,1.0]],
  [[15,0.5],[16,4.3],[17,0.3],[27,0.5],[56,1.8],[57,1.8]],
  [[15,1.8],[16,0.6],[40,0.3],[59,1.0]],
  [[0,0.5],[50,1.0],[51,2.5],[52,0.5]],
  [[18,0.4],[19,0.6],[50,0.6]],
  [[49,0.6],[50,2.5],[51,1.5],[56,1.0],[57,3.7],[58,1.5],[60,0.5]]
];

// ---- layout ----
const W = 740, H = 700;
const left = 50, right = 690.7, bottom = 600;
const nSteps = 61;

const svg = d3.select("#chart").append("svg").attr("width", W).attr("height", H);

const x = d3.scaleLinear().domain([0, nSteps - 1]).range([left, right]);
const yTop = d3.scaleLinear().domain([0, 30]).range([230.5, 21.1]);
const yBot = d3.scaleLinear().domain([-45, 0]).range([546.7, 232.6]);
const yPr = d3.scaleLinear().domain([0, 45]).range([546.7, 232.6]);

const gridColor = "#bfbfbf";

// horizontal grid
const hTop = [5, 10, 15, 20, 25, 30];
const hBot = [-5, -10, -15, -20, -25, -30, -35, -40, -45];
svg.append("g").selectAll("line").data(hTop).enter().append("line")
  .attr("x1", left).attr("x2", right)
  .attr("y1", d => yTop(d)).attr("y2", d => yTop(d))
  .attr("stroke", gridColor).attr("stroke-width", d => d % 10 === 0 ? 2 : 1);
svg.append("g").selectAll("line").data(hBot).enter().append("line")
  .attr("x1", left).attr("x2", right)
  .attr("y1", d => yBot(d)).attr("y2", d => yBot(d))
  .attr("stroke", gridColor).attr("stroke-width", d => d % 10 === 0 ? 2 : 1);

// vertical day lines
svg.append("g").selectAll("line").data(d3.range(0, nSteps, 4)).enter().append("line")
  .attr("x1", d => x(d)).attr("x2", d => x(d))
  .attr("y1", 0).attr("y2", bottom)
  .attr("stroke", gridColor).attr("stroke-width", 1);

// panel separator (double line)
[229.3, 231.5].forEach(yy => svg.append("line")
  .attr("x1", left).attr("x2", right).attr("y1", yy).attr("y2", yy)
  .attr("stroke", "#9a9a9a").attr("stroke-width", 1.2));

// bottom axis line
svg.append("line").attr("x1", left).attr("x2", right + 0.5)
  .attr("y1", bottom).attr("y2", bottom).attr("stroke", "#000").attr("stroke-width", 1);

// axis labels
function styleAxis(g) {
  g.select(".domain").remove();
  g.attr("font-family", "DejaVu Sans Mono, monospace").attr("font-size", 10);
  g.selectAll("text").attr("fill", "#000");
}
svg.append("g").attr("transform", "translate(20,2)")
  .call(d3.axisRight(yTop).tickValues(hTop).tickSize(0).tickPadding(0)).call(styleAxis);
svg.append("g").attr("transform", "translate(20,0.5)")
  .call(d3.axisRight(yBot).tickValues([0].concat(hBot)).tickSize(0).tickPadding(0)).call(styleAxis);
svg.append("g").attr("transform", "translate(709,2)")
  .call(d3.axisRight(yTop).tickValues(hTop).tickSize(0).tickPadding(0).tickFormat(d => d + 45)).call(styleAxis);
svg.append("g").attr("transform", "translate(709,0.5)")
  .call(d3.axisRight(yBot).tickValues([0].concat(hBot)).tickSize(0).tickPadding(0).tickFormat(d => d + 45)).call(styleAxis);

// date axis (rotated)
const xAxisG = svg.append("g").attr("transform", `translate(0,${bottom})`)
  .call(d3.axisBottom(x).tickValues(d3.range(0, nSteps, 4)).tickSize(0).tickFormat((d, i) => dayLabels[i]));
xAxisG.select(".domain").remove();
xAxisG.attr("font-family", "DejaVu Sans Mono, monospace").attr("font-size", 10);
xAxisG.selectAll("text").attr("fill", "#000")
  .attr("text-anchor", "end").attr("dy", null)
  .attr("textLength", 27.5).attr("lengthAdjust", "spacingAndGlyphs")
  .attr("transform", "rotate(-90)").attr("x", -3).attr("y", 11.5);

// units
svg.append("text").attr("x", 19).attr("y", 609.5).attr("font-size", 10).text("(°C)");
svg.append("text").attr("x", 711).attr("y", 609.5).attr("font-size", 10).text("(mm)");

// panel titles
svg.append("text").attr("x", 60).attr("y", 101.5).attr("font-size", 10).text("Temp. 850hPa");
svg.append("text").attr("x", 60).attr("y", 290).attr("font-size", 10).text("Temp. 500hPa");
svg.append("text").attr("x", 60).attr("y", 527.5).attr("font-size", 10).text("Précipitations");

// ---- series ----
svg.append("clipPath").attr("id", "plotClip").append("rect")
  .attr("x", left).attr("y", 0).attr("width", right - left).attr("height", bottom);
const plot = svg.append("g").attr("clip-path", "url(#plotClip)");

const lineTop = d3.line().x((d, i) => x(i)).y(d => yTop(d));
const lineBot = d3.line().x((d, i) => x(i)).y(d => yBot(d));
const linePr = d3.line().x((d, i) => x(i)).y(d => yPr(d));
const cross = "M-1.5,0H1.5M0,-1.5V1.5";

const precipMembers = precipMemberNonZero.map(list => {
  const s = new Array(nSteps).fill(0);
  list.forEach(([i, v]) => { s[i] = v; });
  return s;
});

function drawMembers(data, line, yScale) {
  const g = plot.append("g");
  const m = g.selectAll("g.member").data(data).enter().append("g").attr("class", "member");
  m.append("path")
    .attr("d", d => line(d))
    .attr("fill", "none")
    .attr("stroke", (d, i) => memberColors[i])
    .attr("stroke-width", 1);
  m.selectAll("path.mk").data((d, i) => d.map((v, j) => ({ v, j, c: memberColors[i] })))
    .enter().append("path").attr("class", "mk")
    .attr("d", cross)
    .attr("transform", p => `translate(${x(p.j)},${yScale(p.v)})`)
    .attr("stroke", p => p.c).attr("stroke-width", 1);
}
drawMembers(t850Members, lineTop, yTop);
drawMembers(t500Members, lineBot, yBot);
drawMembers(precipMembers, linePr, yPr);

function drawThick(data, line, color, w) {
  plot.append("path").attr("d", line(data)).attr("fill", "none")
    .attr("stroke", color).attr("stroke-width", w).attr("stroke-linejoin", "round");
}
drawThick(t850Ctrl, lineTop, "#000", 4);
drawThick(t500Ctrl, lineBot, "#000", 4);
drawThick(precipCtrl, linePr, "#000", 4);
drawThick(t850Mean, lineTop, "#ff0000", 4.5);
drawThick(t500Mean, lineBot, "#ff0000", 4.5);
drawThick(precipMean, linePr, "#ff0000", 4.5);

// ---- legend ----
svg.append("line").attr("x1", 35).attr("x2", 65).attr("y1", 640.5).attr("y2", 640.5)
  .attr("stroke", "#ff0000").attr("stroke-width", 3.5);
svg.append("text").attr("x", 74).attr("y", 644).attr("font-size", 10).text("Moyenne des scénarios");
svg.append("line").attr("x1", 225).attr("x2", 255).attr("y1", 640.5).attr("y2", 640.5)
  .attr("stroke", "#000").attr("stroke-width", 3.5);
svg.append("text").attr("x", 265).attr("y", 644).attr("font-size", 10).text("Contrôle/Det");

svg.append("text").attr("x", 369).attr("y", 657).attr("font-size", 10).text("50 Perts.");

const boxX = d3.scaleLinear().domain([0, 24]).range([429, 691]);
const leg = svg.append("g");
leg.selectAll("rect").data(memberColors).enter().append("rect")
  .attr("x", (d, i) => boxX(i % 25))
  .attr("y", (d, i) => i < 25 ? 645.2 : 651.4)
  .attr("width", 10).attr("height", 6.2)
  .attr("fill", d => d);
leg.selectAll("text").data(memberColors).enter().append("text")
  .attr("x", (d, i) => boxX(i % 25) + 5)
  .attr("y", (d, i) => i < 25 ? 643 : 666)
  .attr("text-anchor", "middle")
  .attr("font-size", 8).attr("font-weight", "bold")
  .text((d, i) => d3.format("02d")(i + 1));

// ---- footer ----
svg.append("rect").attr("x", 20.5).attr("y", 667.5).attr("width", 419).attr("height", 31)
  .attr("fill", "none").attr("stroke", "#000").attr("stroke-width", 1);
svg.append("text").attr("x", 30).attr("y", 682).attr("font-size", 11.5).attr("font-weight", "bold")
  .text("Diagramme ensembles ECMWF/CEP 0.25° sur 360h : 40.6N 22.9E");
svg.append("text").attr("x", 30).attr("y", 694).attr("font-size", 10)
  .text("Températures 850hPa et 500hPa (°C) , précipitations (mm)");
svg.append("text").attr("x", 449).attr("y", 679.5).attr("font-size", 10)
  .text("Ensemble ECMWF/CEP du 15/08/2026 - 00Z");
svg.append("text").attr("x", 449).attr("y", 695).attr("font-size", 11.5).attr("font-weight", "bold")
  .text("Copyright 2026 Meteociel.fr - ECMWF");
</script>
</body>
</html>
